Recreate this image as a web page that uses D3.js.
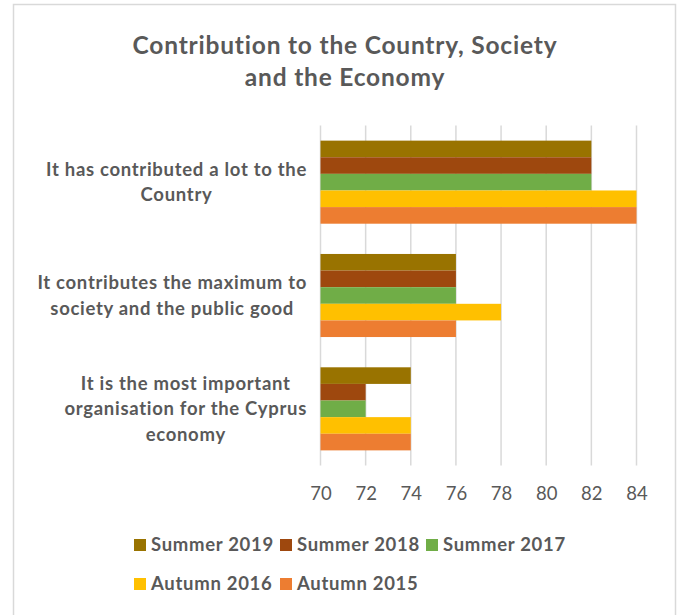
<!DOCTYPE html>
<html>
<head>
<meta charset="utf-8">
<script src="https://cdn.jsdelivr.net/npm/d3@7"></script>
<style>
  body { margin: 0; background: #fff; }
  svg text { font-family: Lato, "Open Sans", sans-serif; fill: #595959; }
</style>
</head>
<body>
<svg id="chart" width="681" height="615"></svg>
<script>
const categories = [
  ['It has contributed a lot to the', 'Country'],
  ['It contributes the maximum to', 'society and the public good'],
  ['It is the most important', 'organisation for the Cyprus', 'economy'],
];
const seriesNames = ['Summer 2019', 'Summer 2018', 'Summer 2017', 'Autumn 2016', 'Autumn 2015'];
const seriesColors = ['#997300', '#9e480e', '#70ad47', '#ffc000', '#ed7d31'];
const summer2019 = [82, 76, 74];
const summer2018 = [82, 76, 72];
const summer2017 = [82, 76, 72];
const autumn2016 = [84, 78, 74];
const autumn2015 = [84, 76, 74];
const xTicks = [70, 72, 74, 76, 78, 80, 82, 84];

const series = [summer2019, summer2018, summer2017, autumn2016, autumn2015];

const svg = d3.select('#chart');

// chart frame
svg.append('rect')
  .attr('x', 13.5).attr('y', 4.5)
  .attr('width', 662).attr('height', 620)
  .attr('fill', '#fff')
  .attr('stroke', '#d9d9d9')
  .attr('stroke-width', 1.5);

// title
svg.append('text')
  .attr('text-anchor', 'middle')
  .attr('font-size', 24.5).attr('font-weight', 'bold')
  .attr('letter-spacing', 0.8)
  .selectAll('tspan')
  .data(['Contribution to the Country, Society', 'and the Economy'])
  .join('tspan')
  .attr('x', 345)
  .attr('y', (d, i) => 54 + i * 32)
  .text(d => d);

const x = d3.scaleLinear().domain([70, 84]).range([320.5, 636.5]);
const y = d3.scaleBand()
  .domain(d3.range(categories.length))
  .range([125.5, 465.5])
  .paddingInner(0.267)
  .paddingOuter(0.1335);
const ySub = d3.scaleBand()
  .domain(d3.range(series.length))
  .range([0, y.bandwidth()]);

// gridlines
svg.append('g')
  .selectAll('line')
  .data(xTicks)
  .join('line')
  .attr('x1', d => x(d)).attr('x2', d => x(d))
  .attr('y1', 125.5).attr('y2', 465.5)
  .attr('stroke', '#d9d9d9')
  .attr('stroke-width', 1.5);

// tick labels
const xAxis = svg.append('g')
  .attr('transform', 'translate(0,465.5)')
  .call(d3.axisBottom(x).tickValues(xTicks).tickSize(0).tickPadding(21));
xAxis.select('.domain').remove();
xAxis.selectAll('text')
  .attr('font-size', 18.5)
  .style('font-family', 'Lato, "Open Sans", sans-serif')
  .attr('fill', '#595959');

// bars
series.forEach((values, si) => {
  svg.append('g')
    .selectAll('rect')
    .data(values)
    .join('rect')
    .attr('x', x(70))
    .attr('y', (d, i) => y(i) + ySub(si))
    .attr('width', d => x(d) - x(70))
    .attr('height', ySub.bandwidth())
    .attr('fill', seriesColors[si]);
});

// category labels, wrapped lines centered, block right-aligned
const labelRight = 307;
const lineH = 25.5;
categories.forEach((lines, i) => {
  const g = svg.append('text')
    .attr('font-size', 18.5).attr('font-weight', 'bold')
    .attr('letter-spacing', 0.7)
    .attr('text-anchor', 'middle');
  const spans = g.selectAll('tspan')
    .data(lines)
    .join('tspan')
    .text(d => d);
  let maxW = 0;
  spans.each(function () { maxW = Math.max(maxW, this.getComputedTextLength()); });
  const cx = labelRight - maxW / 2;
  const cy = y(i) + y.bandwidth() / 2;
  const top = cy - (lines.length - 1) * lineH / 2;
  spans.attr('x', cx)
    .attr('y', (d, j) => top + j * lineH)
    .attr('dy', '0.35em');
});

// legend
const legendRows = [[0, 1, 2], [3, 4]];
legendRows.forEach((row, r) => {
  const cy = 545 + r * 39;
  row.forEach((si, k) => {
    const lx = 134 + k * 146;
    svg.append('rect')
      .attr('x', lx).attr('y', cy - 6)
      .attr('width', 12).attr('height', 12)
      .attr('fill', seriesColors[si]);
    svg.append('text')
      .attr('x', lx + 17).attr('y', cy)
      .attr('dy', '0.35em')
      .attr('font-size', 18.5).attr('font-weight', 'bold')
      .attr('letter-spacing', 0.7)
      .text(seriesNames[si]);
  });
});
</script>
</body>
</html>
